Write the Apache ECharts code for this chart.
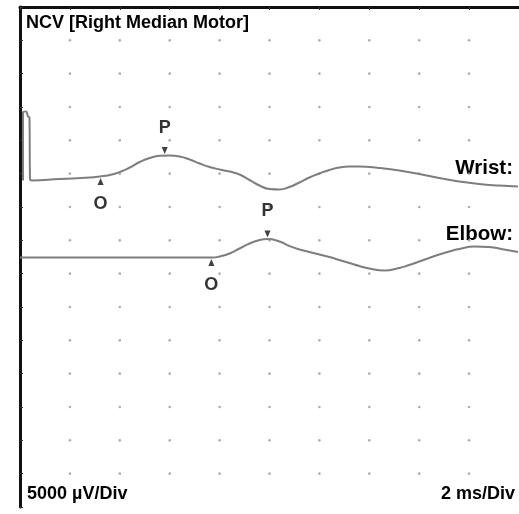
<!DOCTYPE html>
<html>
<head>
<meta charset="utf-8">
<script src="https://cdn.jsdelivr.net/npm/echarts@6/dist/echarts.min.js"></script>
<style>html,body{margin:0;padding:0;background:#fff}#c{width:519px;height:514px}</style>
</head>
<body>
<div id="c"></div>
<script>
// Time axis: ms, 2 ms/Div ; amplitude axis: µV, 5000 µV/Div (display offsets included)
const xTicks = [2, 4, 6, 8, 10, 12, 14, 16, 18];
const yTicks = [5000, 10000, 15000, 20000, 25000, 30000, 35000, 40000, 45000, 50000, 55000, 60000, 65000, 70000];

const wristTime = [0.12, 0.12, 0.24, 0.32, 0.38, 0.40, 0.48, 1.6, 2.8, 3.2, 3.6, 4.0, 4.4, 4.8, 5.2, 5.6, 6.0, 6.4, 6.8, 7.2, 7.6, 8.0, 8.4, 8.8, 9.2, 9.6, 10.0, 10.4, 10.8, 11.2, 11.6, 12.0, 12.4, 12.8, 13.2, 13.6, 14.0, 14.4, 15.2, 16.0, 16.8, 17.6, 18.4, 19.2, 19.96];
const wristAmp = [48975, 59175, 59325, 58575, 58425, 49275, 48975, 49200, 49425, 49575, 49800, 50250, 50925, 51750, 52350, 52680, 52725, 52575, 52125, 51525, 51000, 50625, 50325, 49875, 49050, 48225, 47700, 47625, 48000, 48675, 49425, 50025, 50550, 50925, 51075, 51075, 51000, 50850, 50475, 49950, 49350, 48825, 48450, 48225, 48075];

const elbowTime = [0, 3.2, 7.72, 8.0, 8.4, 8.8, 9.2, 9.6, 9.92, 10.4, 10.8, 11.2, 11.6, 12.0, 12.4, 12.8, 13.2, 13.6, 14.0, 14.6, 15.2, 15.6, 16.0, 16.4, 16.8, 17.2, 17.6, 18.2, 18.8, 19.4, 19.96];
const elbowAmp = [37425, 37425, 37425, 37575, 38025, 38775, 39525, 40050, 40200, 39825, 39150, 38625, 38250, 37875, 37500, 37050, 36600, 36150, 35775, 35475, 35850, 36300, 36825, 37350, 37875, 38325, 38700, 39075, 39000, 38625, 38250];

// Onset (O) and peak (P) markers
const onsetTime = [3.23, 7.67];
const onsetAmp = [49575, 37425];
const peakTime = [5.8, 9.92];
const peakAmp = [52725, 40200];

const traceLabels = ['Wrist:', 'Elbow:'];

const zip = (a, b) => a.map((v, i) => [v, b[i]]);
const dots = [];
xTicks.forEach(x => yTicks.forEach(y => dots.push([x, y])));

const chart = echarts.init(document.getElementById('c'), null, {renderer: 'canvas'});
const F = 'Liberation Sans, Arial, sans-serif';
chart.setOption({
  animation: false,
  backgroundColor: '#fff',
  grid: {left: 20, top: 7, width: 500, height: 500},
  xAxis: {
    type: 'value', position: 'top', min: 0, max: 20, interval: 2,
    axisLine: {show: true, onZero: false, lineStyle: {color: '#111', width: 3}},
    axisTick: {show: true, inside: true, length: 3, lineStyle: {color: '#333', width: 1}},
    axisLabel: {show: false}, splitLine: {show: false}
  },
  yAxis: {
    type: 'value', min: 0, max: 75000, interval: 5000,
    axisLine: {show: true, onZero: false, lineStyle: {color: '#111', width: 3}},
    axisTick: {show: true, inside: true, length: 3, lineStyle: {color: '#333', width: 1}},
    axisLabel: {show: false}, splitLine: {show: false}
  },
  series: [
    {type: 'scatter', data: dots, symbol: 'circle', symbolSize: 2.6, itemStyle: {color: '#9a9a9a'}, silent: true},
    {type: 'line', data: zip(wristTime, wristAmp), showSymbol: false, smooth: 0.5, lineStyle: {color: '#7e7e7e', width: 2}},
    {type: 'line', data: zip(elbowTime, elbowAmp), showSymbol: false, smooth: 0.5, lineStyle: {color: '#7e7e7e', width: 2}},
    {type: 'scatter', data: zip(onsetTime, onsetAmp), symbol: 'triangle', symbolSize: [6, 7], symbolOffset: [0, 5], itemStyle: {color: '#111'},
     label: {show: true, formatter: 'O', position: 'bottom', distance: 10, color: '#000', fontFamily: F, fontWeight: 'bold', fontSize: 18}},
    {type: 'scatter', data: zip(peakTime, peakAmp), symbol: 'triangle', symbolRotate: 180, symbolSize: [6, 7], symbolOffset: [0, -5], itemStyle: {color: '#111'},
     label: {show: true, formatter: 'P', position: 'top', distance: 10, color: '#000', fontFamily: F, fontWeight: 'bold', fontSize: 18}}
  ],
  graphic: [
    {type: 'text', left: 26, top: 14, style: {text: 'NCV [Right Median Motor]', font: 'bold 18px ' + F, fill: '#000'}},
    {type: 'text', right: 6, top: 158, style: {text: traceLabels[0], font: 'bold 20.5px ' + F, fill: '#000'}},
    {type: 'text', right: 6, top: 224, style: {text: traceLabels[1], font: 'bold 20.5px ' + F, fill: '#000'}},
    {type: 'text', left: 27, top: 485, style: {text: '5000 µV/Div', font: 'bold 18px ' + F, fill: '#000'}},
    {type: 'text', right: 4, top: 485, style: {text: '2 ms/Div', font: 'bold 18px ' + F, fill: '#000'}}
  ]
});
</script>
</body>
</html>
